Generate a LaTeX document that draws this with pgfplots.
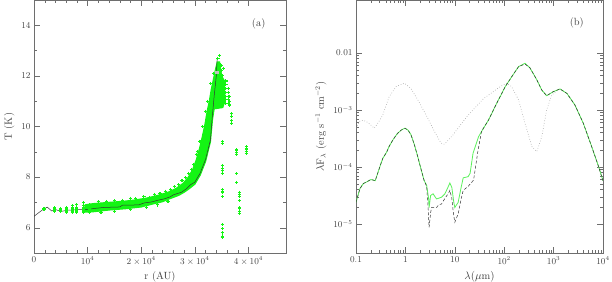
\documentclass[border=0pt]{standalone}
\usepackage{pgfplots}
\pgfplotsset{compat=1.18}
\definecolor{ptgreen}{RGB}{20,245,20}
\definecolor{lgreen}{RGB}{90,240,90}
\definecolor{frame}{RGB}{110,110,110}
\begin{document}
\begin{tikzpicture}
\useasboundingbox (0,0) rectangle (612bp,282bp);
\pgfplotsset{every axis/.append style={
 scale only axis, axis line style={frame, line width=0.5pt},
 tick style={frame, line width=0.4pt},
 tick align=inside, major tick length=6bp, minor tick length=3bp,
 xtick pos=both, ytick pos=both,
 tick label style={font=\fontsize{9}{10}\selectfont, text=black!75},
 label style={font=\fontsize{10.5}{12}\selectfont, text=black!75},
}}
% ---------------- panel (a)
\begin{axis}[at={(34bp,29bp)}, anchor=south west, width=252bp, height=253bp,
 xmin=0, xmax=47000, ymin=5, ymax=15,
 xtick={0,10000,20000,30000,40000},
 xticklabels={0,$10^4$,$2\times10^4$,$3\times10^4$,$4\times10^4$},
 minor x tick num=4, ytick={6,8,10,12,14}, minor y tick num=1,
 scaled x ticks=false,
 xlabel={r (AU)}, ylabel={T (K)}]
% dense band of points
\addplot[draw=ptgreen, line width=1.2pt, fill=ptgreen, mark=none] coordinates {
(9500,6.9)(11000,6.95)(14000,7.0)(17000,7.05)(19000,7.1)(21000,7.17)(23000,7.27)(25000,7.4)(26500,7.55)(27800,7.75)(28800,8.0)(29600,8.3)(30300,8.7)(30900,9.15)(31400,9.6)(31900,10.1)(32300,10.6)(32700,11.0)(33100,11.5)(33500,11.9)(33900,12.3)(34200,12.55)(34600,12.55)(35000,12.0)(35500,11.8)(35600,11.0)(35200,10.75)(33600,10.7)(33300,10.3)(32900,9.4)(32000,8.62)(31000,8.08)(30000,7.72)(29000,7.55)(28000,7.4)(27000,7.28)(26000,7.2)(25000,7.12)(24000,7.03)(22000,6.93)(20000,6.82)(17000,6.75)(14000,6.7)(11000,6.63)(9500,6.62)(9500,6.9)
};
% scattered points
\addplot[only marks, mark=+, mark size=1.6pt, ptgreen, line width=1.1pt] coordinates {
(1870,6.72)(1870,6.76)
(3870,6.66)(3870,6.72)(3870,6.78)
(4990,6.64)(4990,6.70)(4990,6.76)
(6040,6.62)(6040,6.68)(6040,6.74)(6040,6.80)
(7160,6.62)(7160,6.68)(7160,6.74)(7160,6.80)(7160,6.86)
(7980,6.62)(7980,6.68)(7980,6.74)(7980,6.80)(7980,6.92)
(9220,6.62)(9220,6.68)(9220,6.74)(9220,6.80)(9220,6.86)(9220,7.0)
(10280,6.6)(10280,6.66)(10280,6.72)(10280,6.78)(10280,6.84)(10280,6.9)
(12000,7.02)(13500,7.04)(15000,7.06)(16500,7.09)(18000,7.17)(19000,7.14)(20500,7.22)(21500,7.2)
(22500,7.32)(23500,7.34)(24500,7.44)(25500,7.5)(26200,7.62)(27000,7.7)(27600,7.85)(28300,7.97)
(28800,8.15)(29300,8.3)(29800,8.5)(30300,8.9)(30500,9.0)(31000,9.4)(30900,9.42)(31400,10.0)
(32000,10.6)(32400,11.0)(33000,11.7)(33500,12.1)(34600,12.8)(34300,12.7)(34900,12.4)
(12500,6.6)(15000,6.65)(18000,6.72)(21000,6.8)(23000,6.9)(25000,7.05)
(35000,12.2)(35200,12.0)(34800,12.45)(35300,12.3)
(35300,10.9)(35300,11.05)(35300,11.2)(35300,11.35)(35300,11.5)(35300,11.65)(35300,11.8)
(35800,10.9)(35800,11.05)(35800,11.2)(35800,11.35)(35800,11.5)(35800,11.65)(35800,11.8)
(36200,10.9)(36200,11.05)(36200,11.2)(36200,11.35)(36200,11.5)
(36500,10.85)(36500,11.0)(36500,11.2)
(36900,10.12)(36900,10.25)(36900,10.38)(36900,10.51)
(35100,9.40)(35100,9.33)(35100,8.46)(35100,8.35)(35100,8.26)(35100,8.16)(35100,7.50)(35100,7.41)(35100,7.24)
(35100,6.13)(35100,5.96)(35100,5.80)(35100,5.67)(35100,5.61)
(37800,9.07)(37800,8.97)(37800,8.88)(37800,8.13)(37800,7.80)
(38300,7.40)(38300,7.31)(38300,7.22)(38300,7.07)(38300,6.78)(38300,6.65)(38300,6.55)
(39600,9.20)(39600,9.11)(39600,9.01)(39600,8.94)
(30900,9.40)
};
% model line
\addplot[black!80, line width=0.5pt] coordinates {
(0,6.45)(800,6.58)(1800,6.74)(2500,6.81)(3300,6.66)(4000,6.72)(5000,6.64)(6200,6.69)(8000,6.71)(10000,6.72)(11200,6.76)(13000,6.80)(16000,6.82)(16500,6.89)(19500,6.90)(20600,6.98)(22000,7.02)(23000,7.08)(24300,7.14)(25400,7.22)(26000,7.30)(27500,7.40)(28500,7.55)(29200,7.70)(30000,7.80)(31000,8.16)(32000,8.70)(32900,9.46)(33200,10.25)(33600,11.2)(34000,12.0)(34150,12.66)
};
\addplot[only marks, mark=square*, mark size=1.3pt, gray!50] coordinates {(34100,12.15)};
\node[font=\fontsize{10.5}{12}\selectfont, text=black!75] at (axis cs:41900,14.05) {(a)};
\end{axis}
% ---------------- panel (b)
\begin{axis}[at={(356bp,29bp)}, anchor=south west, width=247bp, height=253bp,
 xmode=log, ymode=log, xmin=0.1, xmax=10000, ymin=3.1e-6, ymax=0.085,
 xtick={0.1,1,10,100,1000,10000}, xticklabels={0.1,1,10,$10^2$,$10^3$,$10^4$},
 ytick={1e-5,1e-4,1e-3,1e-2}, yticklabels={$10^{-5}$,$10^{-4}$,$10^{-3}$,0.01},
 xlabel={$\lambda(\mu$m$)$}, ylabel={$\lambda$F$_\lambda$ (erg s$^{-1}$ cm$^{-2}$)}]
% dotted
\addplot[gray!75, dotted, line width=0.6pt] coordinates {
(0.1,4.79e-4)(0.117,6.31e-4)(0.141,6.61e-4)(0.174,6.03e-4)(0.234,4.79e-4)(0.282,6.03e-4)(0.347,8.13e-4)(0.468,1.70e-3)(0.646,2.57e-3)(0.955,2.95e-3)(1.29,2.40e-3)(1.78,1.51e-3)(2.63,8.13e-4)(3.89,4.17e-4)(5.25,2.63e-4)(6.17,2.51e-4)(9.12,3.63e-4)(17.4,7.59e-4)(38.0,1.58e-3)(83.2,2.57e-3)(112,2.95e-3)(141,2.57e-3)(195,1.51e-3)(263,5.89e-4)(363,2.29e-4)(457,1.86e-4)(575,3.39e-4)(724,1.00e-3)(912,1.82e-3)(1259,2.29e-3)(1349,2.34e-3)(1862,1.95e-3)(2692,1.23e-3)(3981,5.89e-4)(5888,2.29e-4)(8128,1.02e-4)(10000,5.75e-5)
};
% green solid
\addplot[lgreen, line width=0.8pt] coordinates {
(0.1,2.40e-5)(0.120,4.17e-5)(0.141,5.13e-5)(0.166,5.50e-5)(0.200,6.03e-5)(0.224,5.89e-5)(0.245,5.75e-5)(0.282,8.32e-5)(0.347,1.41e-4)(0.417,1.82e-4)(0.468,2.29e-4)(0.562,3.02e-4)(0.692,3.89e-4)(0.832,4.47e-4)(0.977,4.79e-4)(1.12,4.47e-4)(1.29,3.72e-4)(1.51,2.51e-4)(1.78,1.51e-4)(2.09,8.91e-5)(2.40,5.75e-5)(2.69,4.79e-5)(2.95,2.82e-5)(3.02,1.95e-5)(3.24,3.16e-5)(3.63,3.39e-5)(4.27,2.75e-5)(5.37,2.95e-5)(6.31,3.39e-5)(7.24,4.37e-5)(7.94,5.25e-5)(8.71,4.37e-5)(9.55,2.40e-5)(10.0,1.95e-5)(11.7,2.40e-5)(13.5,4.47e-5)(14.8,6.46e-5)(18.6,6.76e-5)(20.4,7.76e-5)(23.4,1.74e-4)(30.2,3.39e-4)(38.0,4.79e-4)(47.9,6.61e-4)(70.8,1.32e-3)(105,2.57e-3)(141,3.80e-3)(195,5.75e-3)(263,6.61e-3)(331,5.50e-3)(457,3.39e-3)(575,2.24e-3)(724,1.78e-3)(977,2.09e-3)(1349,2.34e-3)(1862,1.95e-3)(2692,1.23e-3)(3981,5.89e-4)(5888,2.29e-4)(8128,1.02e-4)(10000,5.75e-5)
};
% dashed
\addplot[black!80, dash pattern=on 3pt off 2pt, line width=0.5pt] coordinates {
(0.1,2.40e-5)(0.120,4.17e-5)(0.141,5.13e-5)(0.166,5.50e-5)(0.200,6.03e-5)(0.224,5.89e-5)(0.245,5.75e-5)(0.282,8.32e-5)(0.347,1.41e-4)(0.417,1.82e-4)(0.468,2.29e-4)(0.562,3.02e-4)(0.692,3.89e-4)(0.832,4.47e-4)(0.977,4.79e-4)(1.12,4.47e-4)(1.29,3.72e-4)(1.51,2.51e-4)(1.78,1.51e-4)(2.09,8.91e-5)(2.40,5.75e-5)(2.69,4.57e-5)(2.88,2.00e-5)(3.02,8.71e-6)(3.24,1.58e-5)(3.39,1.95e-5)(4.27,1.95e-5)(4.79,2.19e-5)(5.37,2.24e-5)(6.31,2.82e-5)(7.59,3.55e-5)(7.94,3.89e-5)(8.71,2.82e-5)(9.33,1.58e-5)(10.0,1.07e-5)(11.7,1.51e-5)(13.5,2.82e-5)(14.8,3.89e-5)(18.6,4.57e-5)(24.0,5.89e-5)(29.5,1.95e-4)(34.7,4.17e-4)(38.0,4.79e-4)(47.9,6.61e-4)(70.8,1.32e-3)(105,2.57e-3)(141,3.80e-3)(195,5.75e-3)(263,6.40e-3)(331,5.50e-3)(457,3.39e-3)(575,2.24e-3)(724,1.78e-3)(977,2.09e-3)(1349,2.34e-3)(1862,1.95e-3)(2692,1.23e-3)(3981,5.89e-4)(5888,2.29e-4)(8128,1.02e-4)(10000,5.75e-5)
};
\node[font=\fontsize{10.5}{12}\selectfont, text=black!75] at (axis cs:2950,0.034) {(b)};
\end{axis}
\end{tikzpicture}
\end{document}
